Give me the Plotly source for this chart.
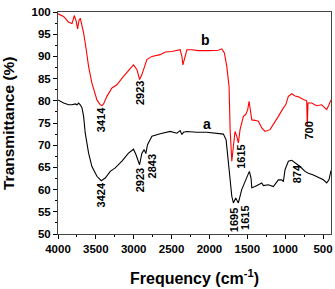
import plotly.graph_objects as go

# Curve b (red)
freq_b = [4000, 3926, 3860, 3815, 3785, 3759, 3741, 3723, 3706, 3689, 3662, 3627, 3596, 3552,
          3486, 3442, 3420, 3398, 3354, 3288, 3222, 3135, 3046, 3003, 2957, 2923, 2892, 2862,
          2826, 2760, 2651, 2583, 2496, 2387, 2364, 2351, 2330, 2298, 2232, 2145, 2013, 1882,
          1837, 1803, 1771, 1741, 1727, 1705, 1684, 1662, 1639, 1618, 1596, 1552, 1521, 1495,
          1477, 1460, 1441, 1398, 1354, 1309, 1266, 1200, 1156, 1090, 1024, 993, 958, 914,
          870, 826, 760, 716, 708, 699, 650, 584, 518, 452, 422, 395]
trans_b = [99.6, 99.0, 97.7, 97.4, 99.2, 97.9, 96.2, 98.1, 98.6, 97.5, 95.3, 91.5, 87.7, 84.0,
           80.2, 79.1, 78.9, 79.3, 81.0, 82.9, 83.6, 85.5, 87.4, 88.1, 87.0, 84.8, 85.9, 87.4,
           89.3, 90.0, 90.4, 91.0, 91.1, 91.5, 90.0, 88.1, 89.3, 91.5, 91.5, 91.3, 91.3, 91.4,
           91.7, 90.8, 87.7, 83.2, 73.5, 66.4, 69.7, 73.1, 72.0, 70.5, 73.5, 76.5, 76.9, 78.0,
           79.9, 77.3, 75.7, 75.6, 75.4, 73.9, 73.1, 73.5, 74.6, 76.5, 78.4, 79.1, 81.0, 81.6,
           81.1, 80.9, 80.3, 80.0, 74.2, 79.5, 79.5, 78.9, 79.1, 78.0, 79.1, 80.2]

# Curve a (black)
freq_a = [4000, 3926, 3860, 3815, 3772, 3749, 3728, 3706, 3683, 3662, 3640, 3596, 3552, 3486,
          3429, 3376, 3310, 3244, 3156, 3069, 3003, 2971, 2923, 2892, 2862, 2840, 2818, 2783,
          2760, 2651, 2519, 2431, 2387, 2364, 2343, 2298, 2167, 2035, 1882, 1816, 1780, 1758,
          1737, 1705, 1684, 1653, 1618, 1574, 1530, 1486, 1473, 1451, 1441, 1398, 1354, 1309,
          1288, 1222, 1156, 1090, 1046, 1024, 1002, 958, 914, 870, 804, 738, 694, 628, 562,
          496, 452, 422, 395]
trans_a = [80.2, 79.5, 79.1, 79.1, 79.3, 79.1, 79.5, 79.1, 78.4, 76.5, 72.7, 68.2, 65.2, 63.0,
           62.0, 62.6, 64.1, 64.9, 66.4, 68.2, 69.1, 67.9, 65.6, 68.2, 69.0, 68.1, 70.1, 71.2,
           72.0, 72.6, 73.1, 72.7, 73.3, 72.4, 72.9, 73.1, 72.9, 72.9, 72.7, 72.5, 71.2, 67.5,
           63.0, 58.5, 57.0, 58.1, 57.0, 60.0, 61.8, 63.7, 64.1, 62.6, 60.4, 60.7, 61.1, 61.5,
           60.9, 61.1, 60.7, 62.2, 62.2, 61.8, 64.5, 66.4, 66.6, 66.1, 65.2, 64.1, 63.7, 63.3,
           62.8, 62.2, 61.5, 62.2, 64.3]

# Peak labels: (text, x, y)
peak_labels = ["3414", "2923", "3424", "2923", "2843", "1695", "1615", "1615", "874", "700"]
peak_x = [3429, 2914, 3420, 2924, 2760, 1684, 1539, 1582, 848, 685]
peak_y = [75.7, 81.8, 58.9, 62.2, 65.2, 53.2, 53.7, 67.4, 63.6, 73.3]

curve_labels = ["a", "b"]
curve_lx = [2027, 2057]
curve_ly = [74.8, 93.8]

x_ticks = [4000, 3500, 3000, 2500, 2000, 1500, 1000, 500]
y_ticks = [50, 55, 60, 65, 70, 75, 80, 85, 90, 95, 100]

fig = go.Figure()
fig.add_trace(go.Scatter(x=freq_b, y=trans_b, mode="lines",
                         line=dict(color="#ff0000", width=1.1), showlegend=False))
fig.add_trace(go.Scatter(x=freq_a, y=trans_a, mode="lines",
                         line=dict(color="#000000", width=1.1), showlegend=False))

font_family = "Liberation Sans, Arial, sans-serif"
for t, x, y in zip(peak_labels, peak_x, peak_y):
    fig.add_annotation(x=x, y=y, text=t, showarrow=False, textangle=-90,
                       font=dict(family=font_family, size=11, color="black", weight="bold"))
for t, x, y in zip(curve_labels, curve_lx, curve_ly):
    fig.add_annotation(x=x, y=y, text=t, showarrow=False,
                       font=dict(family=font_family, size=14, color="black", weight="bold"))

# Axis titles as paper annotations for precise placement
fig.add_annotation(xref="paper", yref="paper", x=0.5, y=0, yanchor="middle",
                   yshift=-43, text="Frequency (cm<sup>-1</sup>)", showarrow=False,
                   font=dict(family=font_family, size=16, color="black", weight="bold"))
fig.add_annotation(xref="paper", yref="paper", x=0, y=0.5, xanchor="center",
                   xshift=-50, text="Transmittance (%)", showarrow=False, textangle=-90,
                   font=dict(family=font_family, size=15.5, color="black", weight="bold"))

fig.update_layout(
    width=335, height=289,
    margin=dict(l=58, r=4, t=12, b=55, autoexpand=False),
    plot_bgcolor="white", paper_bgcolor="white",
    font=dict(family=font_family, color="black"),
)
fig.update_xaxes(range=[4000, 395], tickvals=x_ticks, ticktext=[str(v) for v in x_ticks],
                 ticks="outside", ticklen=4, tickwidth=1, tickcolor="black",
                 minor=dict(ticks="outside", ticklen=2, dtick=250, tick0=0, tickcolor="black"),
                 showline=True, linecolor="#444", linewidth=1, mirror=True, showgrid=False,
                 zeroline=False, automargin=False,
                 tickfont=dict(family=font_family, size=11.5, weight="bold"))
fig.update_yaxes(range=[50, 100], tickvals=y_ticks, ticktext=[str(v) for v in y_ticks],
                 ticks="outside", ticklen=4, tickwidth=1, tickcolor="black",
                 minor=dict(ticks="outside", ticklen=2, dtick=2.5, tick0=0, tickcolor="black"),
                 showline=True, linecolor="#444", linewidth=1, mirror=True, showgrid=False,
                 zeroline=False, automargin=False,
                 tickfont=dict(family=font_family, size=11.5, weight="bold"))

fig.write_html("out.html")
